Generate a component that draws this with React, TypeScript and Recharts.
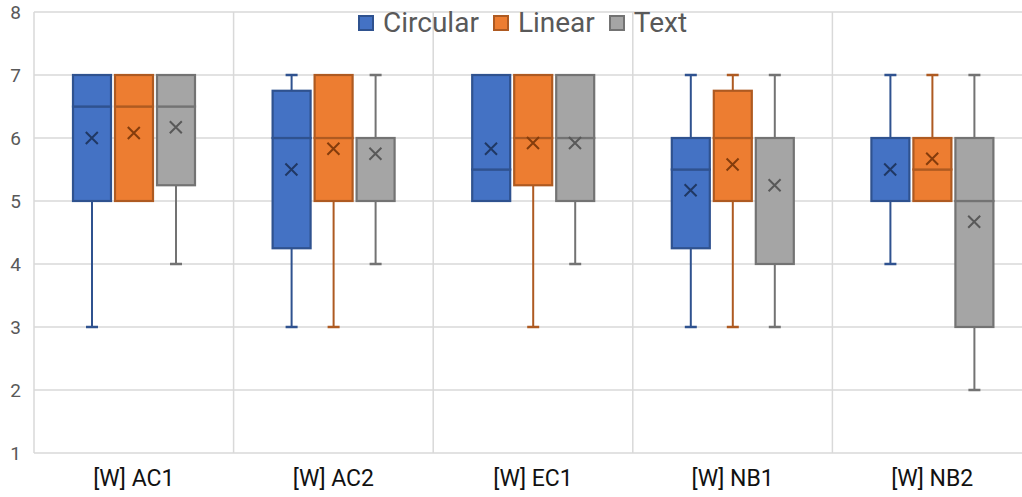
import {
  ComposedChart,
  Bar,
  Scatter,
  XAxis,
  YAxis,
  CartesianGrid,
} from "recharts";

const categories = ["[W] AC1", "[W] AC2", "[W] EC1", "[W] NB1", "[W] NB2"];
const yTicks = [1, 2, 3, 4, 5, 6, 7, 8];

const circularMin = [3, 3, 5, 3, 4];
const circularQ1 = [5, 4.25, 5, 4.25, 5];
const circularMedian = [6.5, 6, 5.5, 5.5, 6];
const circularQ3 = [7, 6.75, 7, 6, 6];
const circularMax = [7, 7, 7, 7, 7];
const circularMean = [6.0, 5.5, 5.83, 5.17, 5.5];

const linearMin = [5, 3, 3, 3, 5];
const linearQ1 = [5, 5, 5.25, 5, 5];
const linearMedian = [6.5, 6, 6, 6, 5.5];
const linearQ3 = [7, 7, 7, 6.75, 6];
const linearMax = [7, 7, 7, 7, 7];
const linearMean = [6.08, 5.83, 5.92, 5.58, 5.67];

const textMin = [4, 4, 4, 3, 2];
const textQ1 = [5.25, 5, 5, 4, 3];
const textMedian = [6.5, 6, 6, 6, 5];
const textQ3 = [7, 6, 7, 6, 6];
const textMax = [7, 7, 7, 7, 7];
const textMean = [6.17, 5.75, 5.92, 5.25, 4.67];

const series = [
  {
    key: "circular",
    name: "Circular",
    fill: "#4472C4",
    stroke: "#2F528F",
    mark: "#203864",
    min: circularMin,
    q1: circularQ1,
    median: circularMedian,
    q3: circularQ3,
    max: circularMax,
    mean: circularMean,
  },
  {
    key: "linear",
    name: "Linear",
    fill: "#ED7D31",
    stroke: "#AE5A21",
    mark: "#843C0C",
    min: linearMin,
    q1: linearQ1,
    median: linearMedian,
    q3: linearQ3,
    max: linearMax,
    mean: linearMean,
  },
  {
    key: "text",
    name: "Text",
    fill: "#A5A5A5",
    stroke: "#737373",
    mark: "#595959",
    min: textMin,
    q1: textQ1,
    median: textMedian,
    q3: textQ3,
    max: textMax,
    mean: textMean,
  },
];

const data = categories.map((name, i) => {
  const row: Record<string, number | string> = { name };
  series.forEach((s) => {
    row[`${s.key}Base`] = s.min[i];
    row[`${s.key}Low`] = s.q1[i] - s.min[i];
    row[`${s.key}Box1`] = s.median[i] - s.q1[i];
    row[`${s.key}Box2`] = s.q3[i] - s.median[i];
    row[`${s.key}High`] = s.max[i] - s.q3[i];
    row[`${s.key}Mean`] = s.mean[i];
  });
  return row;
});

const BAR = 38;
const GAP = 4;

function whisker(color: string, capAt: "top" | "bottom") {
  return (props: any) => {
    const { x, y, width, height } = props;
    if (!height) return <g />;
    const cx = x + width / 2;
    const capY = capAt === "top" ? y : y + height;
    return (
      <g>
        <line x1={cx} x2={cx} y1={y} y2={y + height} stroke={color} strokeWidth={2} />
        <line x1={cx - 6} x2={cx + 6} y1={capY} y2={capY} stroke={color} strokeWidth={2.5} />
      </g>
    );
  };
}

function box(fill: string, stroke: string) {
  return (props: any) => {
    const { x, y, width, height } = props;
    return (
      <rect x={x} y={y} width={width} height={Math.max(height, 0)} fill={fill} stroke={stroke} strokeWidth={2.2} />
    );
  };
}

function meanMark(color: string, shift: number) {
  return (props: any) => {
    const { cx, cy } = props;
    const x = cx + shift;
    const r = 6;
    return (
      <path
        d={`M${x - r},${cy - r}L${x + r},${cy + r}M${x - r},${cy + r}L${x + r},${cy - r}`}
        stroke={color}
        strokeWidth={2}
        fill="none"
      />
    );
  };
}

function ChartLegend() {
  return (
    <div
      style={{
        position: "absolute",
        top: 7,
        left: 358,
        display: "flex",
        alignItems: "center",
        fontFamily: "Roboto, sans-serif",
        fontSize: 28,
        color: "#595959",
        lineHeight: "32px",
        whiteSpace: "nowrap",
      }}
    >
      {series.map((s) => (
        <span key={s.key} style={{ display: "flex", alignItems: "center", marginRight: 14 }}>
          <span
            style={{
              width: 12,
              height: 12,
              background: s.fill,
              border: `2px solid ${s.stroke}`,
              marginRight: 9,
            }}
          />
          {s.name}
        </span>
      ))}
    </div>
  );
}

export default function App() {
  return (
    <div
      style={{
        position: "fixed",
        left: 0,
        top: 0,
        width: 1022,
        height: 497,
        overflow: "hidden",
        background: "#fff",
        fontFamily: "Roboto, sans-serif",
      }}
    >
      <ComposedChart
        width={1040}
        height={497}
        data={data}
        barSize={BAR}
        barGap={GAP}
        margin={{ top: 12, right: 8, bottom: 0, left: 0 }}
      >
        <CartesianGrid
          stroke="#d9d9d9"
          strokeWidth={1.5}
          verticalCoordinatesGenerator={({ offset }: any) =>
            Array.from(
              { length: categories.length + 1 },
              (_, i) => offset.left + (i * offset.width) / categories.length
            )
          }
        />
        <XAxis
          dataKey="name"
          height={44}
          axisLine={false}
          tickLine={false}
          tickSize={0}
          tickMargin={17}
          tick={{ fill: "#111111", fontSize: 23 }}
        />
        <YAxis
          domain={[1, 8]}
          ticks={yTicks}
          allowDataOverflow
          width={34}
          axisLine={false}
          tickLine={false}
          tickSize={0}
          tickMargin={13}
          tick={{ fill: "#595959", fontSize: 19 }}
        />
        {series.map((s) => [
          <Bar key={`${s.key}Base`} dataKey={`${s.key}Base`} stackId={s.key} fill="none" isAnimationActive={false} shape={() => <g />} />,
          <Bar key={`${s.key}Low`} dataKey={`${s.key}Low`} stackId={s.key} isAnimationActive={false} shape={whisker(s.stroke, "bottom")} />,
          <Bar key={`${s.key}Box1`} dataKey={`${s.key}Box1`} stackId={s.key} isAnimationActive={false} shape={box(s.fill, s.stroke)} />,
          <Bar key={`${s.key}Box2`} dataKey={`${s.key}Box2`} stackId={s.key} isAnimationActive={false} shape={box(s.fill, s.stroke)} />,
          <Bar key={`${s.key}High`} dataKey={`${s.key}High`} stackId={s.key} isAnimationActive={false} shape={whisker(s.stroke, "top")} />,
        ])}
        {series.map((s, i) => (
          <Scatter
            key={`${s.key}Mean`}
            dataKey={`${s.key}Mean`}
            isAnimationActive={false}
            shape={meanMark(s.mark, (i - 1) * (BAR + GAP))}
          />
        ))}
      </ComposedChart>
      <ChartLegend />
    </div>
  );
}
